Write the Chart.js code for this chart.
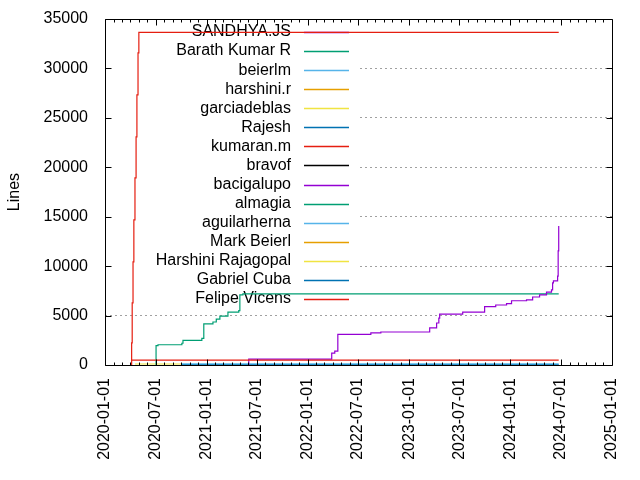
<!DOCTYPE html>
<html>
<head>
<meta charset="utf-8">
<script src="https://cdn.jsdelivr.net/npm/chart.js@4.4.1/dist/chart.umd.min.js"></script>
<style>
    html, body { margin: 0; padding: 0; background: #fff; }
    #wrap { width: 640px; height: 480px; }
</style>
</head>
<body>
<div id="wrap"><canvas id="linesChart" width="640" height="480"></canvas></div>
<script>
const authors = ["SANDHYA.JS", "Barath Kumar R", "beierlm", "harshini.r", "garciadeblas", "Rajesh",
    "kumaran.m", "bravof", "bacigalupo", "almagia", "aguilarherna", "Mark Beierl",
    "Harshini Rajagopal", "Gabriel Cuba", "Felipe Vicens"];
const palette = ["#9400d3", "#009e73", "#56b4e9", "#e69f00", "#f0e442", "#0072b2", "#e51e10", "#000000"];

const xTicks = ["2020-01-01", "2020-07-01", "2021-01-01", "2021-07-01", "2022-01-01", "2022-07-01",
    "2023-01-01", "2023-07-01", "2024-01-01", "2024-07-01", "2025-01-01"];
const yTicks = [0, 5000, 10000, 15000, 20000, 25000, 30000, 35000];

// values (date -> lines)
const felipeDates = ["2020-04-05", "2020-04-06", "2020-04-08", "2020-04-11", "2020-04-14", "2020-04-18",
    "2020-04-22", "2020-04-25", "2020-04-29", "2020-05-02", "2024-06-23"];
const felipeLines = [0, 2230, 6275, 10425, 14675, 18930, 23080, 27330, 31580, 33650, 33650];

const almagiaDates = ["2020-07-03", "2020-07-03", "2020-07-10", "2020-10-04", "2020-10-08", "2020-12-15",
    "2020-12-22", "2021-01-24", "2021-02-05", "2021-02-18", "2021-03-19", "2021-04-27", "2021-05-01",
    "2021-05-12", "2024-06-23"];
const almagiaLines = [0, 1950, 2050, 2200, 2500, 2700, 4150, 4350, 4650, 4950, 5350, 5500, 7100, 7200, 7200];

const bacigalupoDates = ["2021-06-02", "2021-06-02", "2022-03-28", "2022-04-08", "2022-04-19", "2022-08-16",
    "2022-09-21", "2023-02-26", "2023-03-16", "2023-04-10", "2023-04-18", "2023-04-21", "2023-07-13",
    "2023-09-30", "2023-11-09", "2023-12-18", "2024-01-05", "2024-02-28", "2024-03-21", "2024-04-15",
    "2024-05-10", "2024-05-28", "2024-06-01", "2024-06-04", "2024-06-19", "2024-06-21", "2024-06-23"];
const bacigalupoLines = [0, 600, 1200, 1400, 3100, 3250, 3340, 3340, 3750, 4250, 4750, 5150, 5350,
    5900, 6070, 6200, 6500, 6580, 6880, 7100, 7380, 7600, 8300, 8500, 9000, 11550, 14070];

const kumaranDates = ["2020-04-06", "2024-06-23"];
const kumaranLines = [500, 500];

const harshiniDates = ["2020-04-18", "2020-10-04"];
const harshiniLines = [100, 100];

const aguilarDates = ["2020-10-04", "2024-06-23"];
const aguilarLines = [110, 110];

const cubaDates = ["2020-10-04", "2024-06-23"];
const cubaLines = [30, 30];

const seriesData = {
    "kumaran.m": [kumaranDates, kumaranLines],
    "bacigalupo": [bacigalupoDates, bacigalupoLines],
    "almagia": [almagiaDates, almagiaLines],
    "aguilarherna": [aguilarDates, aguilarLines],
    "Harshini Rajagopal": [harshiniDates, harshiniLines],
    "Gabriel Cuba": [cubaDates, cubaLines],
    "Felipe Vicens": [felipeDates, felipeLines]
};

const FONT = "Liberation Sans, Arial, sans-serif";
const toMs = d => Date.parse(d);

const datasets = authors.map((name, i) => {
    const s = seriesData[name];
    const pts = s ? s[0].map((d, k) => ({ x: toMs(d), y: s[1][k] })) : [];
    return {
        label: name,
        data: pts,
        borderColor: palette[i % palette.length],
        borderWidth: 1.2,
        pointRadius: 0,
        stepped: "before",
        fill: false
    };
});

// gnuplot-like key, frame and inward ticks
const gnuplotLook = {
    id: "gnuplotLook",
    beforeDatasetsDraw(chart) {
        const ctx = chart.ctx;
        ctx.save();
        ctx.fillStyle = "#fff";
        ctx.fillRect(106, 21, 251, 289);
        ctx.font = "16px " + FONT;
        ctx.textAlign = "right";
        ctx.textBaseline = "middle";
        authors.forEach((name, i) => {
            const y = 32 + i * 19.07;
            ctx.fillStyle = "#000";
            ctx.fillText(name, 291, y);
            ctx.strokeStyle = palette[i % palette.length];
            ctx.lineWidth = 1.5;
            ctx.beginPath();
            ctx.moveTo(304, Math.round(y) + 0.5);
            ctx.lineTo(349, Math.round(y) + 0.5);
            ctx.stroke();
        });
        ctx.restore();
    },
    afterDraw(chart) {
        const ctx = chart.ctx;
        const a = chart.chartArea;
        const xs = chart.scales.x;
        const ys = chart.scales.y;
        ctx.save();
        ctx.strokeStyle = "#000";
        ctx.lineWidth = 1;
        ctx.beginPath();
        const L = Math.round(a.left) + 0.5, R = Math.round(a.right) + 0.5;
        const T = Math.round(a.top) + 0.5, B = Math.round(a.bottom) + 0.5;
        ctx.rect(L, T, R - L, B - T);
        // minor ticks every month, major every six
        for (let yr = 2020; yr <= 2024; yr++) {
            for (let m = 0; m < 12; m++) {
                const px = Math.round(xs.getPixelForValue(Date.UTC(yr, m, 1))) + 0.5;
                const len = (m % 6 === 0) ? 6 : 3;
                ctx.moveTo(px, B); ctx.lineTo(px, B - len);
                ctx.moveTo(px, T); ctx.lineTo(px, T + len);
            }
        }
        yTicks.forEach(v => {
            const py = Math.round(ys.getPixelForValue(v)) + 0.5;
            ctx.moveTo(L, py); ctx.lineTo(L + 6, py);
            ctx.moveTo(R, py); ctx.lineTo(R - 6, py);
        });
        ctx.stroke();
        ctx.restore();
    }
};

const chart = new Chart(document.getElementById("linesChart").getContext("2d"), {
    type: "line",
    data: { datasets: datasets },
    options: {
        responsive: false,
        animation: false,
        devicePixelRatio: 1,
        layout: { padding: { top: 19, right: 28, left: 0, bottom: 0 } },
        plugins: { legend: { display: false }, tooltip: { enabled: false } },
        scales: {
            x: {
                type: "linear",
                min: toMs(xTicks[0]),
                max: toMs(xTicks[xTicks.length - 1]),
                afterBuildTicks: scale => { scale.ticks = xTicks.map(d => ({ value: toMs(d) })); },
                afterFit: scale => {
                    scale.height = 115;
                    scale.paddingLeft = 0;
                    scale.paddingRight = 0;
                },
                grid: { display: false, drawTicks: false },
                border: { display: false },
                ticks: {
                    autoSkip: false,
                    minRotation: 90,
                    maxRotation: 90,
                    padding: 13,
                    color: "#000",
                    font: { family: FONT, size: 16 },
                    callback: v => new Date(v).toISOString().slice(0, 10)
                }
            },
            y: {
                min: 0,
                max: 35000,
                afterBuildTicks: scale => { scale.ticks = yTicks.map(v => ({ value: v })); },
                afterFit: scale => {
                    scale.width = 105;
                    scale.paddingTop = 10;
                    scale.paddingBottom = 10;
                },
                grid: {
                    drawTicks: false,
                    lineWidth: 1,
                    color: c => (c.tick && (c.tick.value === 0 || c.tick.value === 35000)) ? "rgba(0,0,0,0)" : "#a0a0a0"
                },
                border: { display: false, dash: [2, 3] },
                ticks: {
                    padding: 17,
                    color: "#000",
                    font: { family: FONT, size: 16 },
                    callback: v => String(v)
                },
                title: {
                    display: true,
                    text: "Lines",
                    color: "#000",
                    font: { family: FONT, size: 16 },
                    padding: { top: 5, bottom: 0 }
                }
            }
        }
    },
    plugins: [gnuplotLook]
});
</script>
</body>
</html>
